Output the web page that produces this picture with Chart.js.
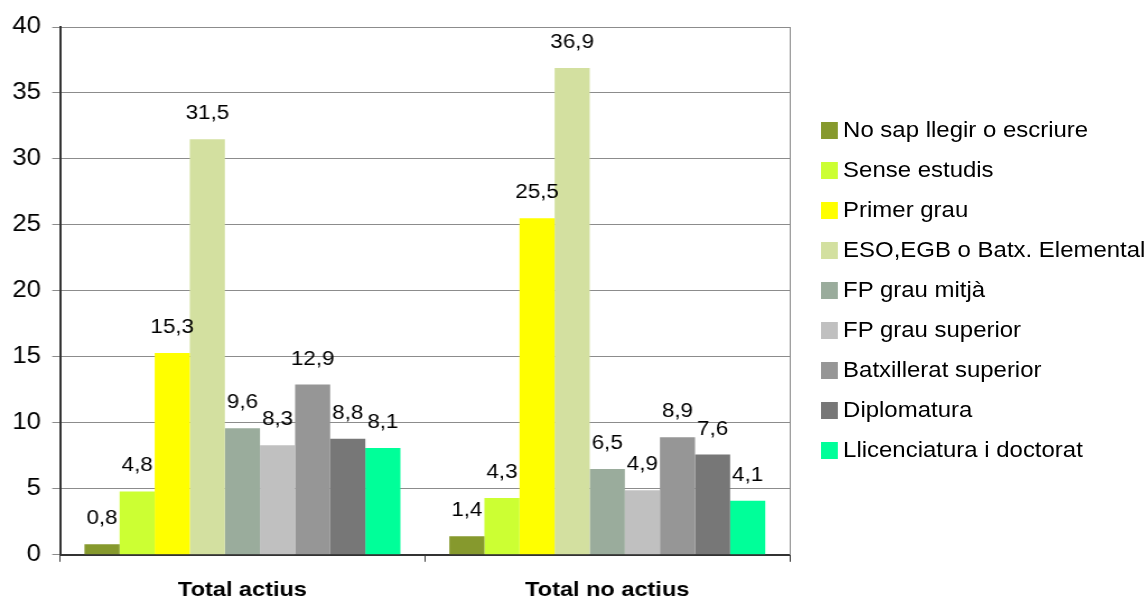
<!DOCTYPE html>
<html>
<head>
<meta charset="utf-8">
<script src="https://cdn.jsdelivr.net/npm/chart.js@4"></script>
<style>
    body { margin: 0; background: #fff; overflow: hidden; }
    /* the original picture is stretched sideways, so the whole figure is drawn narrow and scaled */
    .wrap { width: 1024px; height: 599px; position: relative; transform: scaleX(1.1201); transform-origin: 0 0; }
    .plot { position: absolute; left: 0; top: 0; width: 707px; height: 599px; }
    #legend { position: absolute; left: 733px; top: 110px; margin: 0; padding: 0; list-style: none;
              font-family: 'Liberation Sans', Arial, sans-serif; font-size: 21.4px; color: #000; }
    #legend li { height: 40px; display: flex; align-items: center; white-space: nowrap; }
    #legend span { display: inline-block; width: 15.2px; height: 17px; margin-right: 4.5px; }
</style>
</head>
<body>
<div class="wrap">
    <div class="plot"><canvas id="studiesChart"></canvas></div>
    <ul id="legend"></ul>
</div>
<script>
// groups on the x axis
const groups = ['Total actius', 'Total no actius'];

// education levels (one dataset each)
const levels = [
    'No sap llegir o escriure',
    'Sense estudis',
    'Primer grau',
    'ESO,EGB o Batx. Elemental',
    'FP grau mitjà',
    'FP grau superior',
    'Batxillerat superior',
    'Diplomatura',
    'Llicenciatura i doctorat'
];

// values per level: [Total actius, Total no actius]
const noSap = [0.8, 1.4];
const senseEstudis = [4.8, 4.3];
const primerGrau = [15.3, 25.5];
const esoEgb = [31.5, 36.9];
const fpMitja = [9.6, 6.5];
const fpSuperior = [8.3, 4.9];
const batxSuperior = [12.9, 8.9];
const diplomatura = [8.8, 7.6];
const llicenciatura = [8.1, 4.1];

const seriesValues = [noSap, senseEstudis, primerGrau, esoEgb, fpMitja, fpSuperior, batxSuperior, diplomatura, llicenciatura];

const colors = ['#86992D', '#CCFF33', '#FFFF00', '#D3E0A0', '#9AAC9C', '#C0C0C0', '#969696', '#777777', '#00FF99'];

const FONT = "'Liberation Sans', Arial, sans-serif";

// draws the value above every bar, decimal comma like the original
const valueLabels = {
    id: 'valueLabels',
    afterDatasetsDraw(chart) {
        const ctx = chart.ctx;
        ctx.save();
        ctx.font = '20px ' + FONT;
        ctx.fillStyle = '#000';
        ctx.textAlign = 'center';
        ctx.textBaseline = 'alphabetic';
        chart.data.datasets.forEach((ds, i) => {
            const meta = chart.getDatasetMeta(i);
            meta.data.forEach((bar, j) => {
                const txt = ds.data[j].toFixed(1).replace('.', ',');
                ctx.fillText(txt, bar.x, bar.y - 20);
            });
        });
        ctx.restore();
    }
};

// legend built from the chart's own legend items
const htmlLegend = {
    id: 'htmlLegend',
    afterUpdate(chart) {
        const ul = document.getElementById('legend');
        ul.innerHTML = '';
        const items = chart.options.plugins.legend.labels.generateLabels(chart);
        items.forEach(item => {
            const li = document.createElement('li');
            const box = document.createElement('span');
            box.style.background = item.fillStyle;
            li.appendChild(box);
            li.appendChild(document.createTextNode(item.text));
            ul.appendChild(li);
        });
    }
};

const datasets = levels.map((name, i) => ({
    label: name,
    data: seriesValues[i],
    backgroundColor: colors[i],
    borderWidth: 0,
    barPercentage: 1,
    categoryPercentage: 0.866
}));

new Chart(document.getElementById('studiesChart'), {
    type: 'bar',
    data: { labels: groups, datasets: datasets },
    plugins: [valueLabels, htmlLegend],
    options: {
        responsive: true,
        maintainAspectRatio: false,
        animation: false,
        // x tick padding counts twice in the axis height, the negative bottom gives it back
        layout: { padding: { top: 27, left: 1, right: 2, bottom: -20 } },
        plugins: {
            tooltip: { enabled: false },
            legend: { display: false }
        },
        scales: {
            x: {
                grid: { drawOnChartArea: false, tickLength: 7, color: '#333' },
                border: { color: '#333', width: 2 },
                ticks: { color: '#000', padding: 16, font: { family: FONT, size: 21, weight: 'bold' } }
            },
            y: {
                min: 0,
                max: 40,
                ticks: { stepSize: 5, color: '#000', padding: 10, font: { family: FONT, size: 23 } },
                grid: { color: '#8c8c8c', tickLength: 7 },
                border: { color: '#333', width: 2 }
            },
            yRight: {
                position: 'right',
                min: 0,
                max: 40,
                ticks: { display: false },
                grid: { drawOnChartArea: false, drawTicks: false },
                border: { color: '#8c8c8c', width: 1 }
            }
        }
    }
});
</script>
</body>
</html>
